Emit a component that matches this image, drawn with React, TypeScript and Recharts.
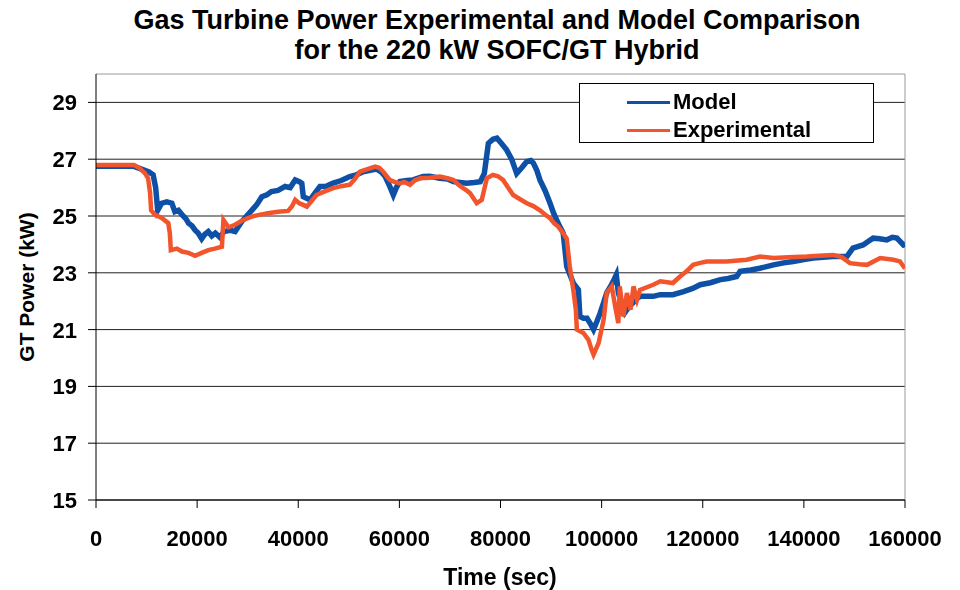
import { LineChart, Line, XAxis, YAxis, CartesianGrid, ReferenceLine } from "recharts";

const modelTime = [
  0, 7500, 9000, 10500, 11300, 11800, 12200, 13000, 14000, 15000, 15600, 16300, 17000, 17800, 18300, 19000,
  19600, 20200, 20900, 21500, 22200, 22900, 23600, 24500, 25300, 26500, 27500, 28800, 29800, 30800, 31800,
  32800, 33800, 34700, 36000, 37400, 38400, 39400, 40300, 40700, 41000, 42300, 43300, 44300, 45500, 46900,
  48500, 50200, 51500, 52800, 54000, 55500, 56400, 57200, 58100, 58800, 59400, 60100, 61500, 62700, 64700,
  66000, 68000, 69500, 70700, 72000, 73300, 74800, 76000, 76800, 77600, 78500, 79300, 80200, 81200, 82200,
  83200, 84200, 85200, 86000, 86500, 87200, 87800, 88800, 89800, 90500, 91100, 91800, 92400, 93100, 94400,
  95400, 95700, 96400, 97100, 97800, 98400, 99100, 99700, 100400, 101000, 101700, 102300, 102900, 103300,
  104000, 104600, 105400, 106200, 107000, 107600, 110200, 111600, 114100, 116200, 118000, 119500, 121500,
  123500, 125000, 126700, 127400, 129500, 131300, 134000, 136000, 137900, 140000, 141900, 143800, 145800,
  148500, 149700, 151700, 152700, 153700, 155000, 156400, 157500, 158400, 159700, 160000,
];
const modelPower = [
  26.75, 26.75, 26.65, 26.55, 26.45, 26.0, 25.2, 25.45, 25.5, 25.45, 25.15, 25.2, 25.05, 24.9, 24.75, 24.65,
  24.5, 24.4, 24.2, 24.35, 24.45, 24.3, 24.4, 24.25, 24.45, 24.5, 24.45, 24.8, 25.0, 25.2, 25.4,
  25.68, 25.75, 25.86, 25.9, 26.04, 26.0, 26.27, 26.2, 26.15, 25.68, 25.57, 25.8, 26.04, 26.05, 26.16,
  26.25, 26.39, 26.45, 26.56, 26.6, 26.65, 26.55, 26.39, 26.04, 25.74, 26.0, 26.21, 26.25, 26.27, 26.39,
  26.4, 26.33, 26.3, 26.21, 26.18, 26.15, 26.18, 26.21, 26.5, 27.56, 27.7, 27.74, 27.55, 27.33, 27.0,
  26.5, 26.7, 26.92, 26.95, 26.86, 26.6, 26.27, 25.9, 25.45, 25.1, 24.86, 24.6, 24.4, 23.22, 22.64,
  22.4, 21.46, 21.4, 21.4, 21.2, 21.0, 21.3, 21.58, 21.95, 22.29, 22.5, 22.7, 22.93, 22.3,
  21.9, 21.6, 21.8, 21.94, 22.1, 22.17, 22.17, 22.23, 22.23, 22.34, 22.45, 22.58, 22.65,
  22.76, 22.8, 22.87, 23.05, 23.1, 23.16, 23.28, 23.35, 23.4, 23.47, 23.52, 23.55, 23.57,
  23.57, 23.87, 23.98, 24.1, 24.22, 24.2, 24.16, 24.25, 24.22, 23.98, 24.0,
];

const expTime = [
  0, 7500, 8500, 9700, 10300, 10700, 10900, 11700, 13000, 14300, 14600, 14800, 16000, 17000, 18300, 19600,
  20900, 22200, 23500, 24900, 25200, 26200, 27500, 29000, 30800, 32500, 34000, 36000, 38000, 38800, 39400,
  40200, 41000, 41700, 42500, 43600, 45000, 46900, 48500, 50200, 51200, 52200, 53700, 55200, 56000, 56800,
  57500, 58100, 59000, 60100, 61000, 62100, 63000, 64100, 66000, 68000, 69500, 70700, 71700, 72600, 73300,
  74000, 75300, 76300, 77300, 78500, 79500, 80500, 81500, 82500, 83800, 85200, 86500, 87800, 88800, 89800,
  90600, 91400, 92400, 93100, 93700, 94400, 94900, 95100, 96400, 97400, 98000, 98400, 99400, 100400, 101000,
  102000, 102700, 103300, 103600, 104300, 105000, 105700, 106300, 107000, 107600, 110200, 111600, 114100,
  115500, 116800, 118100, 119500, 120800, 124700, 128700, 131300, 134000, 137000, 140600, 143000, 145800,
  147500, 149100, 151000, 152500, 155100, 157700, 159000, 160000,
];
const expPower = [
  26.8, 26.8, 26.7, 26.5, 26.33, 25.8, 25.2, 25.04, 24.93, 24.75, 24.4, 23.8, 23.85, 23.75, 23.7, 23.6,
  23.7, 23.8, 23.85, 23.92, 24.86, 24.6, 24.69, 24.85, 24.98, 25.05, 25.1, 25.15, 25.18, 25.35, 25.57,
  25.45, 25.39, 25.33, 25.5, 25.74, 25.85, 25.98, 26.05, 26.1, 26.3, 26.56, 26.65, 26.74, 26.7, 26.56,
  26.4, 26.27, 26.2, 26.15, 26.2, 26.1, 26.25, 26.33, 26.35, 26.39, 26.33, 26.27, 26.1, 25.98, 25.9,
  25.8, 25.45, 25.57, 26.33, 26.45, 26.4, 26.27, 26.0, 25.74, 25.6, 25.45, 25.35, 25.2, 25.05, 24.92,
  24.75, 24.63, 24.4, 24.2, 23.22, 22.4, 21.7, 21.0, 20.88, 20.64, 20.3, 20.12, 20.53, 21.35, 22.29,
  22.52, 21.8, 21.23, 22.52, 21.46, 22.29, 21.7, 22.52, 22.05, 22.4, 22.58, 22.7, 22.64,
  22.87, 23.05, 23.28, 23.35, 23.4, 23.4, 23.46, 23.57, 23.52, 23.55, 23.57, 23.6, 23.63,
  23.55, 23.34, 23.3, 23.28, 23.52, 23.46, 23.4, 23.15,
];

const xTicks = [0, 20000, 40000, 60000, 80000, 100000, 120000, 140000, 160000];
const yTicks = [15, 17, 19, 21, 23, 25, 27, 29];
const seriesNames = ["Model", "Experimental"];

const modelData = modelTime.map((t, i) => ({ t, power: modelPower[i] }));
const expData = expTime.map((t, i) => ({ t, power: expPower[i] }));

const FONT = "'Liberation Sans', Arial, sans-serif";
const BLUE = "#0E50A6";
const ORANGE = "#F2552C";
const seriesColors = [BLUE, ORANGE];

const tickStyle = { fontSize: 22, fontWeight: 700, fill: "#000", fontFamily: FONT };

// y tick: line from the axis leftwards, label right-aligned with a gap
function YTick(props: any) {
  const { y, payload } = props;
  return (
    <g>
      <line x1={88} x2={96} y1={y} y2={y} stroke="#000" strokeWidth={1} />
      <text x={77} y={y} dy="0.36em" textAnchor="end" {...tickStyle}>
        {payload.value}
      </text>
    </g>
  );
}

export default function App() {
  return (
    <div style={{ position: "fixed", left: 0, top: 0, width: 960, height: 590, background: "#fff", fontFamily: FONT }}>
      <div
        style={{
          position: "absolute",
          left: 34,
          top: 5,
          width: 926,
          textAlign: "center",
          fontWeight: 700,
          fontSize: 27,
          lineHeight: "30px",
          color: "#000",
        }}
      >
        Gas Turbine Power Experimental and Model Comparison
        <br />
        for the 220 kW SOFC/GT Hybrid
      </div>
      <div
        style={{
          position: "absolute",
          left: 27,
          top: 287,
          transform: "translate(-50%, -50%) rotate(-90deg)",
          whiteSpace: "nowrap",
          fontWeight: 700,
          fontSize: 21,
          color: "#000",
        }}
      >
        GT Power (kW)
      </div>
      <div
        style={{
          position: "absolute",
          left: 500,
          top: 577,
          transform: "translate(-50%, -50%)",
          whiteSpace: "nowrap",
          fontWeight: 700,
          fontSize: 23,
          color: "#000",
        }}
      >
        Time (sec)
      </div>
      <LineChart width={960} height={590} data={modelData} margin={{ top: 74, right: 55, bottom: 60, left: 0 }}>
        <CartesianGrid horizontal vertical={false} stroke="#222" strokeWidth={1} horizontalValues={yTicks} />
        <ReferenceLine y={30} stroke="#999" strokeWidth={1} />
        <ReferenceLine x={160000} stroke="#999" strokeWidth={1} />
        <XAxis
          dataKey="t"
          type="number"
          domain={[0, 160000]}
          ticks={xTicks}
          interval={0}
          height={30}
          stroke="#000"
          tickSize={8}
          tickMargin={22}
          tick={tickStyle}
          allowDataOverflow
        />
        <YAxis
          type="number"
          domain={[15, 30]}
          ticks={yTicks}
          interval={0}
          width={96}
          stroke="#000"
          tickLine={false}
          tick={<YTick />}
          allowDataOverflow
        />
        <Line
          data={modelData}
          dataKey="power"
          name="Model"
          stroke={BLUE}
          strokeWidth={5.5}
          dot={false}
          type="linear"
          isAnimationActive={false}
        />
        <Line
          data={expData}
          dataKey="power"
          name="Experimental"
          stroke={ORANGE}
          strokeWidth={4.5}
          dot={false}
          type="linear"
          isAnimationActive={false}
        />
      </LineChart>
      <div
        style={{
          position: "absolute",
          left: 579,
          top: 83,
          width: 295,
          height: 60,
          border: "1px solid #000",
          background: "#fff",
          boxSizing: "border-box",
          fontWeight: 700,
          fontSize: 22,
        }}
      >
        {seriesNames.map((name, i) => (
          <div
            key={name}
            style={{ position: "absolute", left: 47, top: 4 + i * 28, height: 28, display: "flex", alignItems: "center" }}
          >
            <span style={{ display: "inline-block", width: 43, height: 3, background: seriesColors[i], marginRight: 3 }} />
            <span style={{ color: "#000" }}>{name}</span>
          </div>
        ))}
      </div>
    </div>
  );
}
